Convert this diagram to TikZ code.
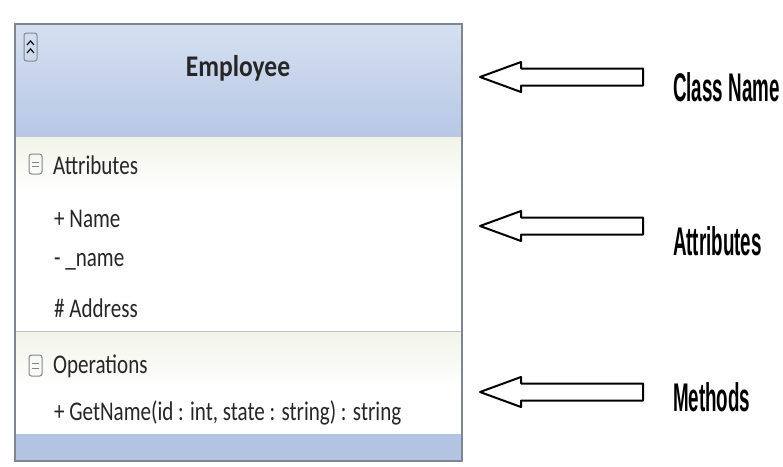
\documentclass[tikz,border=0pt]{standalone}
\usepackage{fontspec}
\setmainfont{Carlito}
\newfontfamily\tagfont{Liberation Sans}

\definecolor{hdtop}{HTML}{D5E0F1}
\definecolor{hdbot}{HTML}{B7C7E5}
\definecolor{band}{HTML}{F2F4E9}
\definecolor{foot}{HTML}{B3C3E2}
\definecolor{frame}{HTML}{7E8790}

\tikzset{
  member/.style={anchor=west,inner sep=0pt,xscale=.78,text=black!85,font=\fontsize{27}{30}\selectfont},
  tag/.style={anchor=west,inner sep=0pt,xscale=.47,font=\tagfont\bfseries\fontsize{40}{44}\selectfont},
  blockarrow/.style={draw=black,line width=2pt,fill=white,line join=round},
  toggle/.style={draw=frame,line width=1pt,rounded corners=2.5pt}
}

\begin{document}
\begin{tikzpicture}[x=1pt,y=-1pt]
	\useasboundingbox (0,0) rectangle (783,466);
	\fill[white] (0,0) rectangle (783,466);

	\path[top color=hdtop,bottom color=hdbot] (15,24) rectangle (462,137);
	\path[top color=band,bottom color=white] (15,137) rectangle (462,192);
	\path[top color=band,bottom color=white] (15,332) rectangle (462,390);
	\fill[foot] (15,434) rectangle (462,461);
	\draw[frame!50] (15,331) -- (462,331);
	\draw[frame,line width=1.2pt] (15,24) rectangle (462,461);

	\draw[toggle] (24,33) rectangle (37,61);
	\draw[line width=1.2pt] (27,45) -- (30.5,41) -- (34,45) (27,53) -- (30.5,49) -- (34,53);
	\draw[toggle] (29,154) rectangle (42,174); \draw[frame] (32,162) -- (39,162) (32,166) -- (39,166);
	\draw[toggle] (29,355) rectangle (42,376); \draw[frame] (32,363) -- (39,363) (32,368) -- (39,368);

	\node[inner sep=0pt,xscale=.85,text=black!85,font=\bfseries\fontsize{30}{34}\selectfont] (cls) at (238,68) {Employee};
	\node[member] (attrs) at (53,165) {Attributes};
	\node[member] (attrA) at (54,219) {+ Name};
	\node[member] (attrB) at (54,262) {- \_name};
	\node[member] (attrC) at (54,308) {\# Address};
	\node[member] (ops) at (53,366) {Operations};
	\node[member] (opA) at (54,413) {+ GetName(id : int, state : string) : string};

	\foreach \y in {77,226,392}
		\draw[blockarrow] (643,\y-8.5) -- (521,\y-8.5) -- (521,\y-15) -- (480,\y) -- (521,\y+15) -- (521,\y+8.5) -- (643,\y+8.5) -- cycle;

	\node[tag] (tagCls) at (673,87) {Class Name};
	\node[tag] (tagAttr) at (673,241) {Attributes};
	\node[tag] (tagOps) at (673,397) {Methods};
\end{tikzpicture}
\end{document}
